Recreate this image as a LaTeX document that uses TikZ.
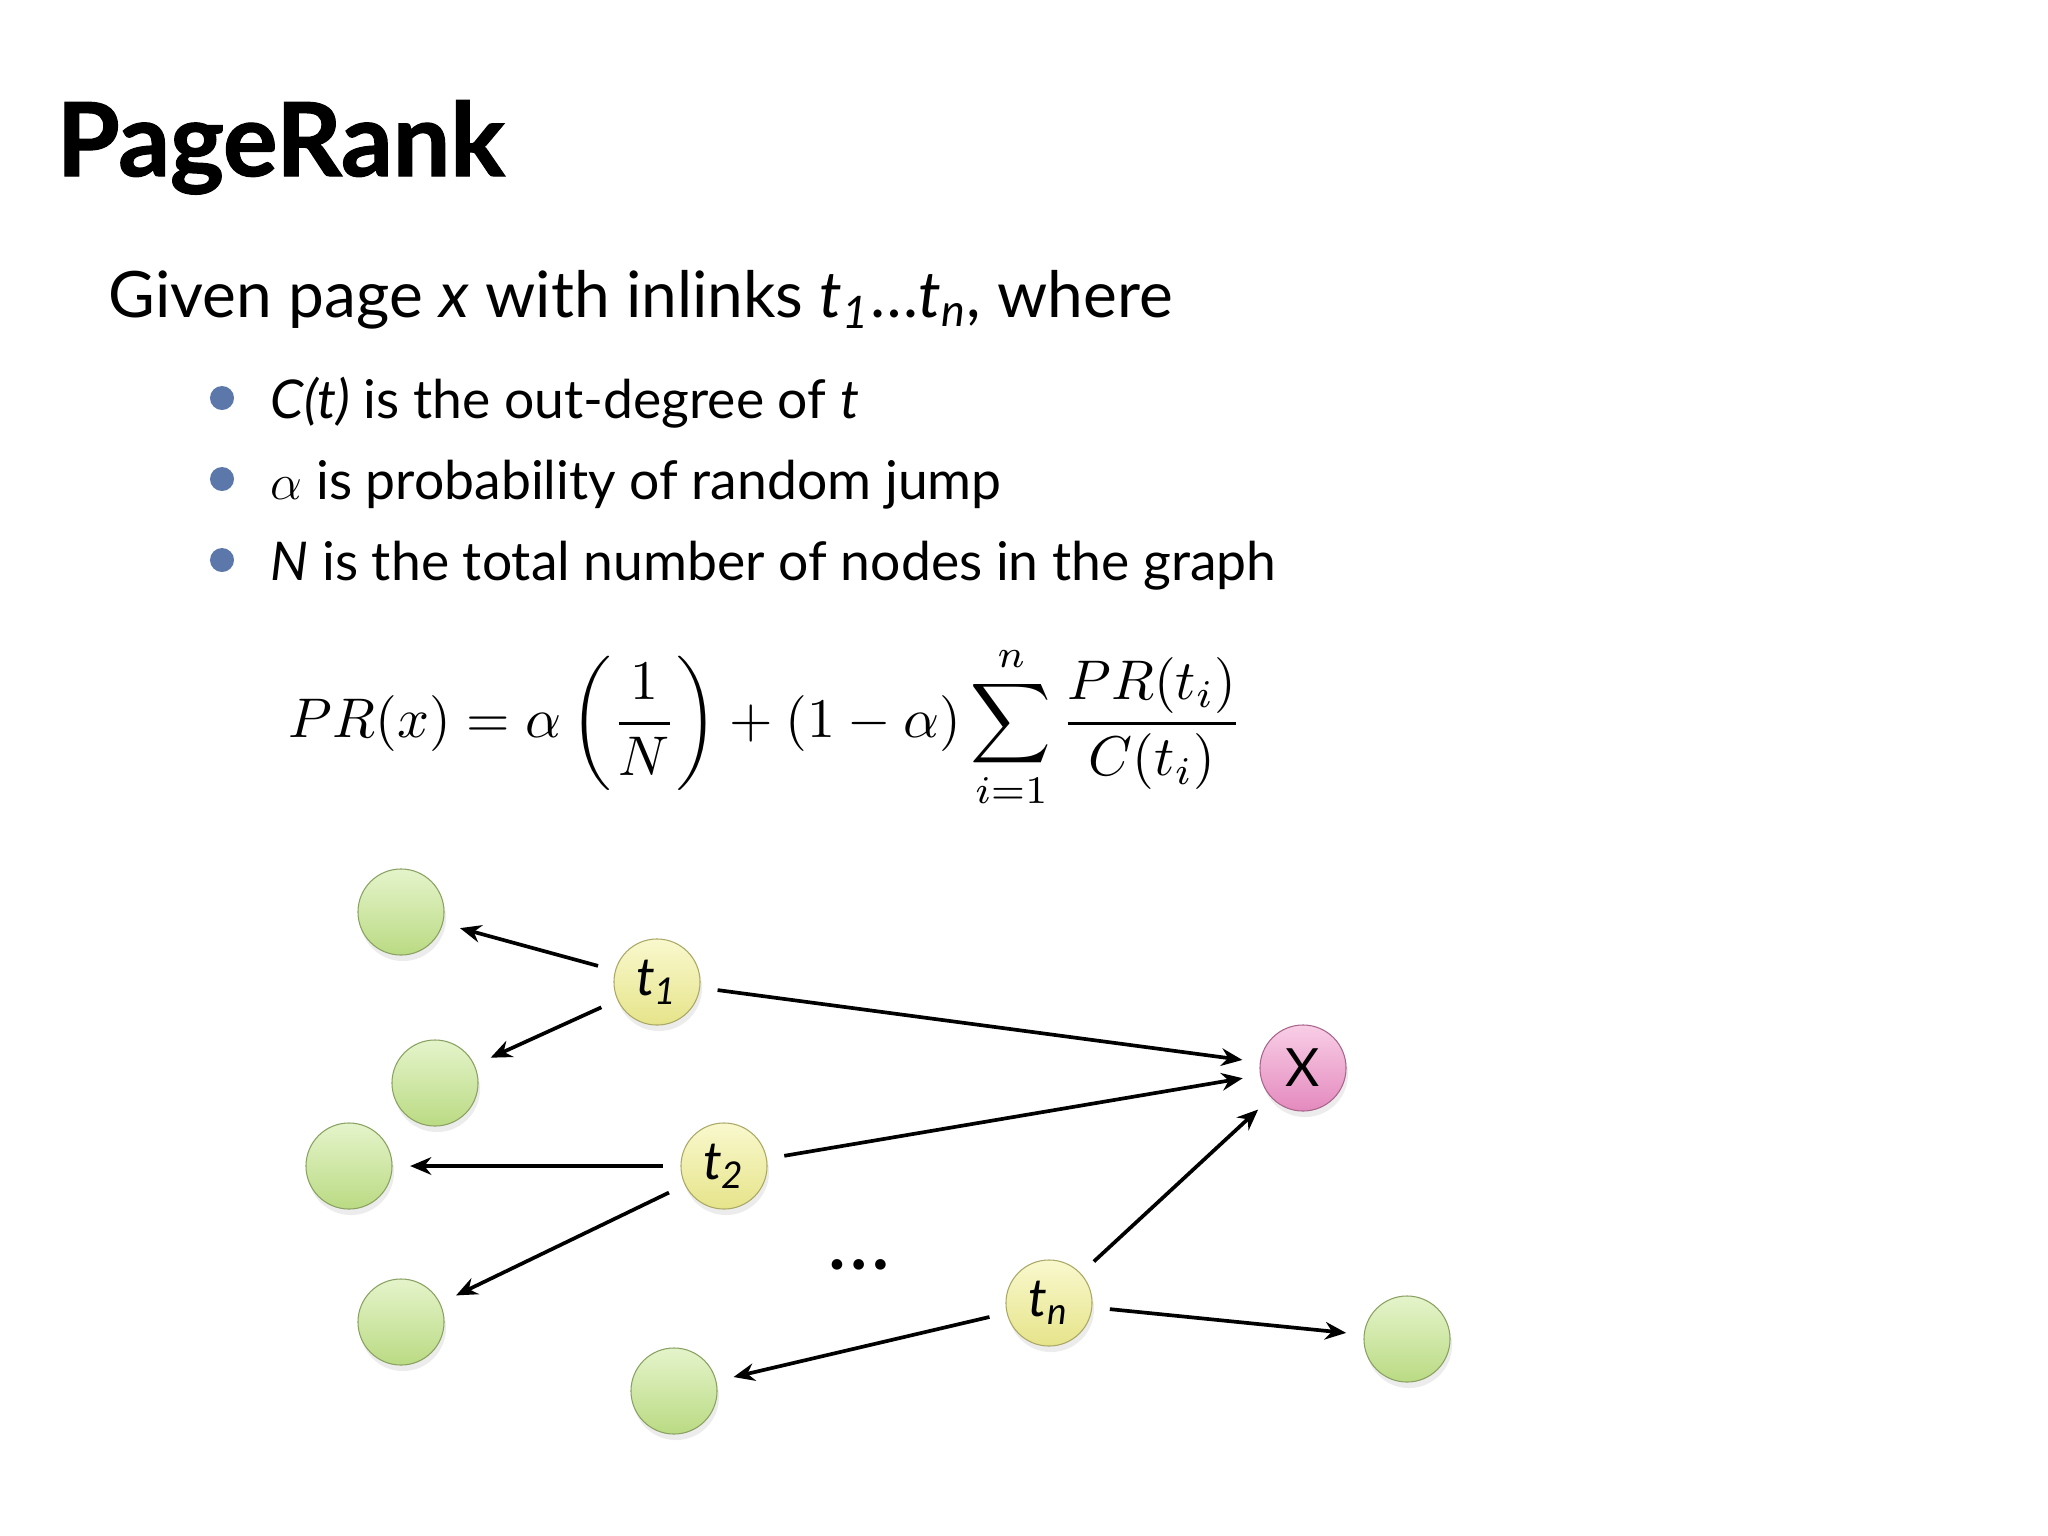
\documentclass[tikz,border=0pt]{standalone}
\usepackage[no-math]{fontspec}
\setmainfont{Lato}
\usetikzlibrary{arrows.meta,shadows}

\definecolor{leafgreen}{RGB}{196,230,138}
\definecolor{inlinkyellow}{RGB}{242,240,145}
\definecolor{targetpink}{RGB}{240,145,200}
\definecolor{bulletblue}{RGB}{92,120,170}

\newcommand{\tsub}[1]{\textit{t}\textsubscript{\textit{#1}}}

\tikzset{
  ball/.style={circle, minimum size=0.86cm, inner sep=0pt, draw=#1!70!black, line width=0.3pt,
    top color=#1!45!white, bottom color=#1!95!black,
    drop shadow={opacity=0.15, shadow xshift=0.02cm, shadow yshift=-0.06cm}},
  leaf/.style={ball=leafgreen},
  inlink/.style={ball=inlinkyellow, font=\fontsize{15}{18}\selectfont},
  target/.style={ball=targetpink, font=\fontsize{15}{18}\selectfont},
  link/.style={-{Stealth[length=6pt,width=5pt]}, line width=1.05pt, shorten >=5pt, shorten <=5pt},
  txt/.style={anchor=base west, inner sep=0pt}
}

\begin{document}
\begin{tikzpicture}[x=0.01cm, y=-0.01cm]
    \fill[white] (0,0) rectangle (2048,1536);
    \useasboundingbox (0,0) rectangle (2048,1536);

    % heading and text
    \node[txt, font=\fontsize{29}{34}\selectfont\bfseries\addfontfeature{FakeBold=1.2}] (title) at (56,176) {PageRank};
    \node[txt, font=\fontsize{18.2}{22}\selectfont] (given) at (108,317) {Given page \textit{x} with inlinks \tsub{1}\ldots\tsub{n}, where};
    \foreach \i/\y/\txt in {1/418/{\textit{C(t)} is the out-degree of \textit{t}},
                            2/499/{$\alpha$ is probability of random jump},
                            3/580/{\textit{N} is the total number of nodes in the graph}} {
        \fill[bulletblue] (222,\y-20) circle (0.12cm);
        \node[txt, font=\fontsize{15.2}{18}\selectfont] (item\i) at (270,\y) {\txt};
    }

    % formula
    \node[scale=1.59] (eq) at (766,727)
        {$\displaystyle PR(x) = \alpha\left(\frac{1}{N}\right) + (1-\alpha)\sum_{i=1}^{n}\frac{PR(t_i)}{C(t_i)}$};

    % graph
    \node[leaf] (g1) at (401,912) {};
    \node[leaf] (g2) at (435,1083) {};
    \node[leaf] (g3) at (349,1166) {};
    \node[leaf] (g4) at (401,1322) {};
    \node[leaf] (g5) at (674,1391) {};
    \node[leaf] (g6) at (1407,1339) {};
    \node[inlink] (t1) at (657,982) {\tsub{1}};
    \node[inlink] (t2) at (724,1166) {\tsub{2}};
    \node[inlink] (tn) at (1049,1303) {\tsub{n}};
    \node[target] (x) at (1303,1068) {X};
    \node[anchor=base, inner sep=0pt, font=\fontsize{24}{28}\selectfont] (dots) at (859,1269) {\ldots};

    \draw[link] (t1) -- (g1);
    \draw[link] (t1) -- (g2);
    \draw[link] (t1) -- (x);
    \draw[link] (t2) -- (g3);
    \draw[link] (t2) -- (g4);
    \draw[link] (t2) -- (x);
    \draw[link] (tn) -- (g5);
    \draw[link] (tn) -- (g6);
    \draw[link] (tn) -- (x);
\end{tikzpicture}
\end{document}
